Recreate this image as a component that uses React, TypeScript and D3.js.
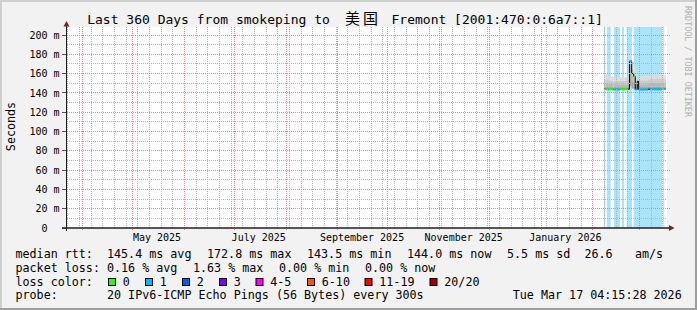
import React from "react";
import * as d3 from "d3";

// ---------- data ----------
const TIME_START = "2025-03-22T04:15:28";
const TIME_END = "2026-03-17T04:15:28";
const Y_MAX = 208.3;

const yMajorTicks = [0, 20, 40, 60, 80, 100, 120, 140, 160, 180, 200];
const yMinorTicks = [10, 30, 50, 70, 90, 110, 130, 150, 170, 190];

const monthLabelText = ["May 2025", "July 2025", "September 2025", "November 2025", "January 2026"];
const monthLabelDates = ["2025-05-15T12:00", "2025-07-15T12:00", "2025-09-15T12:00", "2025-11-15T12:00", "2026-01-15T12:00"];

// step segments (start of each consolidated period)
const segStart = [
  "2026-02-07T15:50", "2026-02-08T10:34", "2026-02-10T05:45", "2026-02-13T05:45",
  "2026-02-17T06:14", "2026-02-21T15:22", "2026-02-22T23:02", "2026-02-24T06:43",
  "2026-02-25T11:31", "2026-02-26T10:34", "2026-02-27T15:22", "2026-02-28T11:31",
  "2026-03-06T01:26", "2026-03-07T06:14", "2026-03-14T01:00", "2026-03-16T01:55",
];
const dataEnd = "2026-03-16T20:38";
const medianMs = [143.8, 143.7, 143.7, 143.6, 143.7, 143.9, 172.8, 160.0, 157.0, 143.6, 152.0, 143.5, 143.8, 143.7, 144.0, 144.0];
// index into lossColors, -1 = no loss class line
const lossClass = [-1, 0, 0, 1, 0, -1, 1, -1, 0, 1, -1, 1, -1, 1, 0, 1];
const smokeLo = [143.0, 143.0, 143.0, 142.9, 143.0, 143.1, 147.0, 144.5, 143.5, 142.9, 143.2, 142.9, 143.0, 143.0, 143.1, 143.1];
const smokeL1 = [146.5, 146.5, 146.0, 146.0, 146.0, 147.0, 160.0, 152.0, 150.0, 145.5, 148.0, 146.0, 146.5, 146.5, 146.5, 146.5];
const smokeL2 = [150.0, 150.0, 149.5, 149.0, 149.0, 150.5, 168.0, 158.0, 155.0, 148.0, 152.0, 149.0, 150.0, 150.5, 150.5, 150.0];
const smokeL3 = [154.0, 154.0, 153.0, 152.5, 152.5, 154.0, 175.0, 165.0, 160.0, 151.5, 155.5, 153.0, 154.0, 154.5, 154.5, 154.0];
const smokeTop = [159.0, 159.0, 157.0, 156.0, 156.0, 158.0, 181.0, 172.0, 166.0, 155.0, 158.0, 157.0, 158.0, 159.0, 159.0, 158.0];

const lossBgStart = ["2026-02-07T15:50", "2026-02-09T11:00", "2026-02-13T15:50", "2026-02-18T11:00", "2026-02-21T06:43", "2026-02-25T11:31", "2026-03-15T05:46"];
const lossBgEnd = ["2026-02-08T10:34", "2026-02-11T16:19", "2026-02-17T06:14", "2026-02-19T15:50", "2026-02-24T11:02", "2026-03-14T11:02", "2026-03-15T20:10"];

const lossLabels = ["0", "1", "2", "3", "4-5", "6-10", "11-19", "20/20"];
const lossColors = ["#26ff00", "#00b8ff", "#0059ff", "#7e00ff", "#ff00ff", "#ff5500", "#ff0000", "#a10000"];

const rttValues = ["145.4 ms avg", "172.8 ms max", "143.5 ms min", "144.0 ms now", "5.5 ms sd", "26.6", "am/s"];
const lossValues = ["0.16 % avg", "1.63 % max", "0.00 % min", "0.00 % now"];
const probeText = "20 IPv6-ICMP Echo Pings (56 Bytes) every 300s";
const stampText = "Tue Mar 17 04:15:28 2026";

// ---------- layout ----------
const W = 697;
const H = 310;
const PL = 66.5, PR = 666.5, PT = 27, PB = 228;
const MONO = "'DejaVu Sans Mono', monospace";
const smokeColors = ["#a4a4a4", "#b8b8b8", "#cbcbcb", "#dcdcdc"];
const GRID_GRAY = "#b4b4b4";
const GRID_RED = "#e98585";

const rttX = [107, 207, 307, 407, 507, 584.5, 635];
const lossX = [107, 193, 279, 365];
const boxX = [108.5, 145.5, 182.5, 219.5, 256, 307.5, 365, 430];
const rowY = [258, 271.8, 285.6, 299.4];

export default function App() {
  const parse = (s: string) => new Date(s);
  const x = d3.scaleTime().domain([parse(TIME_START), parse(TIME_END)]).range([PL, PR]);
  const y = d3.scaleLinear().domain([0, Y_MAX]).range([PB, PT]);
  const fl = (v: number) => Math.floor(v);

  const t0 = parse(TIME_START), t1 = parse(TIME_END);
  const months = d3.timeMonth.range(t0, t1);
  const weeks = d3.timeSunday.range(t0, t1);

  const ends = segStart.map((_, i) => (i < segStart.length - 1 ? segStart[i + 1] : dataEnd));
  const layers = [smokeLo, smokeL1, smokeL2, smokeL3, smokeTop];

  const medPts: [Date, number][] = segStart.map((s, i) => [parse(s), medianMs[i]]);
  medPts.push([parse(dataEnd), medianMs[medianMs.length - 1]]);
  const medLine = d3
    .line<[Date, number]>()
    .x((d) => x(d[0]))
    .y((d) => y(d[1]))
    .curve(d3.curveStepAfter)(medPts) as string;

  // dotted pixel runs for the minor grid (1px on / 1px off)
  const vDots = (xx: number, y0: number, y1: number) => {
    let d = "";
    for (let yy = y0; yy < y1; yy += 2) d += `M${xx},${yy}h1v1h-1z`;
    return d;
  };
  const hDots = (yy: number, x0: number, x1: number) => {
    let d = "";
    for (let xx = x0; xx < x1; xx += 2) d += `M${xx},${yy}h1v1h-1z`;
    return d;
  };

  const monthPx = new Set(months.map((d) => fl(x(d))));
  const grayPath =
    weeks.map((d) => fl(x(d))).filter((p) => !monthPx.has(p)).map((p) => vDots(p, PT, PB)).join("") +
    yMinorTicks.map((v) => hDots(fl(y(v)), 67, 667)).join("");

  return (
    <svg width={W} height={H} style={{ position: "absolute", left: 0, top: 0 }} xmlns="http://www.w3.org/2000/svg">
      <defs>
        <pattern id="hR" x={0} y={0} width={2} height={2} patternUnits="userSpaceOnUse">
          <rect x={1} y={0} width={1} height={2} fill={GRID_RED} />
        </pattern>
        <pattern id="vR" x={0} y={0} width={2} height={2} patternUnits="userSpaceOnUse">
          <rect x={0} y={1} width={2} height={1} fill={GRID_RED} />
        </pattern>
      </defs>

      {/* background + shades */}
      <rect x={0} y={0} width={W} height={H} fill="#f2f2f2" />
      <rect x={0} y={0} width={W} height={2} fill="#cfcfcf" />
      <rect x={0} y={0} width={2} height={H} fill="#cfcfcf" />
      <rect x={0} y={H - 2} width={W} height={2} fill="#9e9e9e" />
      <rect x={W - 2} y={0} width={2} height={H} fill="#9e9e9e" />

      {/* canvas */}
      <rect x={67} y={PT} width={600} height={PB - PT} fill="#ffffff" />

      {/* loss background */}
      {lossBgStart.map((s, i) => (
        <rect key={"lb" + i} x={x(parse(s))} y={PT} width={x(parse(lossBgEnd[i])) - x(parse(s))} height={PB - PT} fill="#aae4fc" />
      ))}

      {/* smoke */}
      {segStart.map((s, i) =>
        smokeColors.map((c, k) => {
          const x0 = x(parse(s));
          const x1 = x(parse(ends[i]));
          const yTop = y(layers[k + 1][i]);
          const yBot = y(layers[k][i]);
          return <rect key={"sm" + i + "_" + k} x={x0} y={yTop} width={x1 - x0} height={yBot - yTop} fill={c} />;
        })
      )}

      {/* median */}
      <path d={medLine} fill="none" stroke="#000" strokeWidth={1} />
      {segStart.map((s, i) =>
        lossClass[i] >= 0 ? (
          <line key={"ml" + i} x1={x(parse(s))} x2={x(parse(ends[i]))} y1={y(medianMs[i])} y2={y(medianMs[i])} stroke={lossColors[lossClass[i]]} strokeWidth={2} />
        ) : null
      )}

      {/* grid */}
      <g shapeRendering="crispEdges">
        <path d={grayPath} fill={GRID_GRAY} />
        {months.map((d, i) => (
          <rect key={"mo" + i} x={fl(x(d))} y={PT} width={1} height={PB - PT + 3} fill="url(#vR)" />
        ))}
        {yMajorTicks.filter((v) => v > 0).map((v) => (
          <rect key={"yM" + v} x={67} y={fl(y(v))} width={603} height={1} fill="url(#hR)" />
        ))}
        {yMajorTicks.map((v) => (
          <rect key={"yt" + v} x={62} y={fl(y(v))} width={4} height={1} fill="#555" />
        ))}
      </g>

      {/* axes */}
      <line x1={62} x2={670} y1={PB} y2={PB} stroke="#1f1f1f" strokeWidth={1.5} />
      <line x1={PL} x2={PL} y1={PB + 3} y2={24} stroke="#1f1f1f" strokeWidth={1} />
      <path d={`M63.5,26.5 L69.5,26.5 L66.5,21 Z`} fill="#801f1f" />
      <path d={`M669,225 L669,231 L674.5,228 Z`} fill="#801f1f" />

      {/* y labels */}
      {yMajorTicks.map((v) => (
        <text key={"yl" + v} x={v === 0 ? 47.5 : 59.5} y={y(v) + 3.6} fontFamily={MONO} fontSize={10} textAnchor="end" fill="#000">
          {v === 0 ? "0" : `${v} m`}
        </text>
      ))}

      {/* x labels */}
      {monthLabelText.map((t, i) => (
        <text key={"xl" + i} x={x(parse(monthLabelDates[i]))} y={241} fontFamily={MONO} fontSize={10} textAnchor="middle" fill="#000">
          {t}
        </text>
      ))}

      {/* axis title */}
      <text transform="translate(15,126.5) rotate(-90)" fontFamily={MONO} fontSize={11.7} textAnchor="middle" fill="#000">
        Seconds
      </text>

      {/* title */}
      <text x={87.2} y={23.5} fontFamily={MONO} fontSize={13} fill="#000">
        Last 360 Days from smokeping to
      </text>
      <text x={345} y={23.5} fontFamily="'Noto Sans CJK SC', sans-serif" fontSize={15} letterSpacing={3} fill="#000">
        美国
      </text>
      <text x={391.5} y={23.5} fontFamily={MONO} fontSize={13} fill="#000">
        Fremont [2001:470:0:6a7::1]
      </text>

      {/* watermark */}
      <text transform="translate(684.5,6) rotate(90)" fontFamily={MONO} fontSize={8.4} fill="#b0b0b0">
        RRDTOOL / TOBI OETIKER
      </text>

      {/* legend */}
      <g fontFamily={MONO} fontSize={11.7} fill="#000">
        <text x={15.5} y={rowY[0]}>median rtt:</text>
        {rttValues.map((t, i) => (
          <text key={"r" + i} x={rttX[i]} y={rowY[0]}>{t}</text>
        ))}
        <text x={15.5} y={rowY[1]}>packet loss:</text>
        {lossValues.map((t, i) => (
          <text key={"l" + i} x={lossX[i]} y={rowY[1]}>{t}</text>
        ))}
        <text x={15.5} y={rowY[2]}>loss color:</text>
        {lossLabels.map((t, i) => (
          <g key={"lc" + i}>
            <rect x={boxX[i]} y={278.5} width={7} height={7} fill={lossColors[i]} stroke="#000" strokeWidth={1} />
            <text x={boxX[i] + 14.3} y={rowY[2]}>{t}</text>
          </g>
        ))}
        <text x={15.5} y={rowY[3]}>probe:</text>
        <text x={107} y={rowY[3]}>{probeText}</text>
        <text x={512.8} y={rowY[3]}>{stampText}</text>
      </g>
    </svg>
  );
}
